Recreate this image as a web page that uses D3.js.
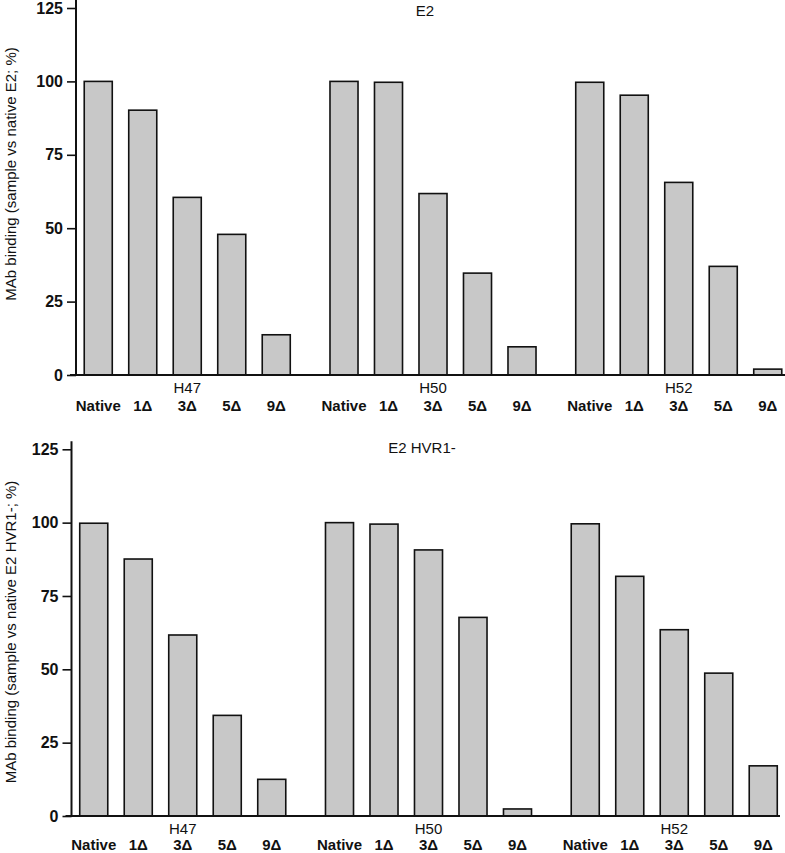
<!DOCTYPE html>
<html>
<head>
<meta charset="utf-8">
<script src="https://cdn.jsdelivr.net/npm/d3@7"></script>
<style>
  html, body { margin: 0; padding: 0; background: #fff; }
  svg { display: block; }
  text { font-family: "Liberation Sans", Arial, Helvetica, sans-serif; fill: #111; }
</style>
</head>
<body>
<svg id="chart" width="785" height="853"></svg>
<script>
// ---- data ----
const groups = ["H47", "H50", "H52"];
const categories = ["Native", "1Δ", "3Δ", "5Δ", "9Δ"];
const yTicks = [0, 25, 50, 75, 100, 125];

const e2Values = [
  [100, 90.2, 60.5, 47.9, 13.7],   // H47
  [100, 99.7, 61.8, 34.7, 9.6],    // H50
  [99.7, 95.3, 65.6, 37.0, 2.0]    // H52
];
const hvr1Values = [
  [99.8, 87.6, 61.7, 34.3, 12.5],  // H47
  [100, 99.5, 90.7, 67.7, 2.4],    // H50
  [99.6, 81.7, 63.5, 48.7, 17.1]   // H52
];
const panelTitles = ["E2", "E2 HVR1-"];
const yLabels = [
  "MAb binding (sample vs native E2; %)",
  "MAb binding (sample vs native E2 HVR1-; %)"
];

// ---- drawing ----
const svg = d3.select("#chart");

function drawPanel(cfg) {
  const { axisX, zeroY, topY, values, title, ylabel, titleX, titleY, ylabelY, lineRight, catDy } = cfg;
  const g = svg.append("g");

  const y = d3.scaleLinear().domain([0, 125]).range([zeroY, topY]);
  const x0 = d3.scaleBand().domain(groups).range([axisX, axisX + 714])
    .paddingInner(0.0946).paddingOuter(0);
  const x1 = d3.scaleBand().domain(categories).range([0, x0.bandwidth()])
    .paddingInner(0.37).paddingOuter(0.185);

  // bars
  groups.forEach((grp, gi) => {
    g.append("g").selectAll("rect")
      .data(values[gi])
      .join("rect")
      .attr("x", (d, i) => x0(grp) + x1(categories[i]))
      .attr("y", d => y(d))
      .attr("width", x1.bandwidth())
      .attr("height", d => y(0) - y(d))
      .attr("fill", "#c8c8c8")
      .attr("stroke", "#111")
      .attr("stroke-width", 1.6);
  });

  // y axis
  const yAxis = d3.axisLeft(y).tickValues(yTicks).tickSize(9).tickPadding(4).tickSizeOuter(0);
  const ya = g.append("g").attr("transform", `translate(${axisX},0)`).call(yAxis);
  ya.select(".domain").remove();
  ya.selectAll(".tick line").attr("stroke", "#111").attr("stroke-width", 1.6);
  ya.selectAll(".tick text")
    .style("font-size", "16px").style("font-weight", "bold")
    .attr("fill", "#111");
  g.append("line")
    .attr("x1", axisX).attr("x2", axisX)
    .attr("y1", y(0)).attr("y2", Math.max(0, y(125) - 8))
    .attr("stroke", "#111").attr("stroke-width", 2);

  // x axis line
  g.append("line")
    .attr("x1", axisX - 6).attr("x2", lineRight)
    .attr("y1", y(0)).attr("y2", y(0))
    .attr("stroke", "#111").attr("stroke-width", 2.2);

  // category labels
  groups.forEach(grp => {
    g.append("g").selectAll("text")
      .data(categories)
      .join("text")
      .attr("x", d => x0(grp) + x1(d) + x1.bandwidth() / 2)
      .attr("y", y(0) + catDy)
      .attr("text-anchor", "middle")
      .style("font-size", "15px").style("font-weight", "bold")
      .text(d => d);
    g.append("text")
      .attr("x", x0(grp) + x0.bandwidth() / 2)
      .attr("y", y(0) + 18)
      .attr("text-anchor", "middle")
      .style("font-size", "15px")
      .text(grp);
  });

  // title
  g.append("text")
    .attr("x", titleX).attr("y", titleY)
    .attr("text-anchor", "middle")
    .style("font-size", "15px")
    .text(title);

  // y label
  g.append("text")
    .attr("transform", `translate(16,${ylabelY}) rotate(-90)`)
    .attr("text-anchor", "middle")
    .style("font-size", "15px")
    .text(ylabel);
}

drawPanel({
  axisX: 76, zeroY: 375, topY: 8, values: e2Values,
  title: panelTitles[0], ylabel: yLabels[0],
  titleX: 425, titleY: 16, ylabelY: 174, lineRight: 785, catDy: 36
});
drawPanel({
  axisX: 71.5, zeroY: 816, topY: 449.3, values: hvr1Values,
  title: panelTitles[1], ylabel: yLabels[1],
  titleX: 422, titleY: 453, ylabelY: 632, lineRight: 780, catDy: 34
});
</script>
</body>
</html>
